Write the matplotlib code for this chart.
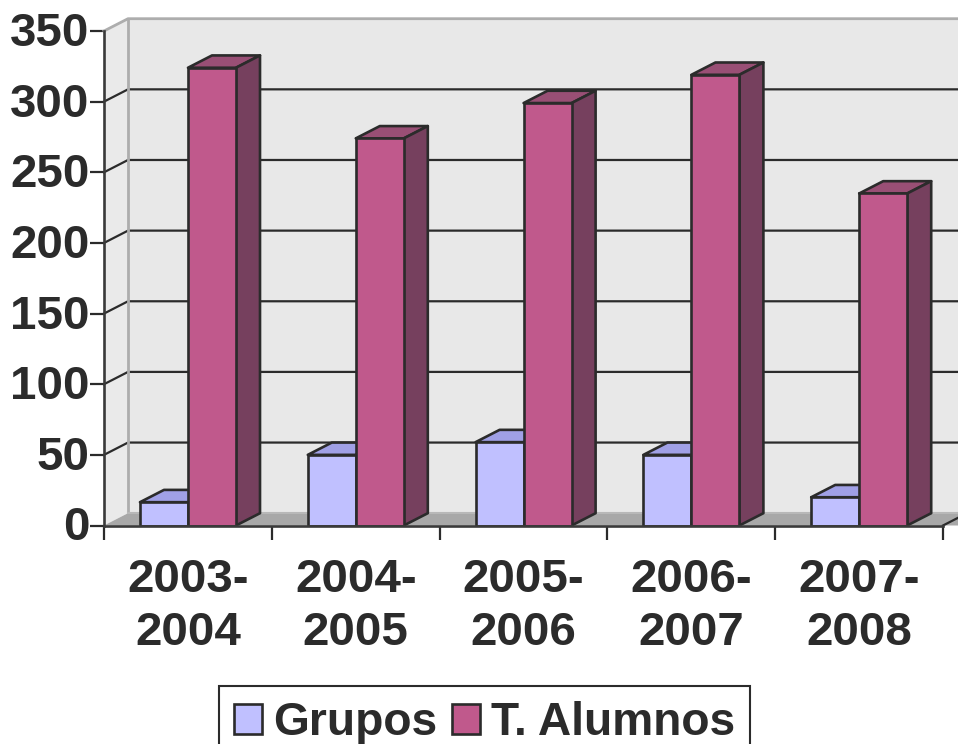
import matplotlib
matplotlib.use('Agg')
import matplotlib.pyplot as plt
from matplotlib.patches import Polygon
from matplotlib.transforms import ScaledTranslation

periodos = ['2003-\n2004', '2004-\n2005', '2005-\n2006', '2006-\n2007', '2007-\n2008']
grupos = [16.5, 50, 59, 50, 20]
alumnos = [324, 274, 299, 319, 235]
yticks = [0, 50, 100, 150, 200, 250, 300, 350]

W, H = 958, 744
oscuro = '#2b2b2b'
plt.rcParams['font.family'] = ['Liberation Sans', 'DejaVu Sans']
plt.rcParams['font.weight'] = 'bold'

fig = plt.figure(figsize=(W / 100, H / 100), dpi=100)
# ejes colocados en pixeles: x 104..943, y 525.5..31
ax = fig.add_axes([104 / W, 1 - 525.5 / H, (943 - 104) / W, (525.5 - 31) / H])
ax.set_xlim(0, 5)
ax.set_ylim(0, 350)
ax.patch.set_visible(False)

# profundidad 3d en unidades de datos
dx = 24 / 167.8
dy = 12.3 / (494.5 / 350)

def poly(pts, fc, ec=oscuro, lw=1.9, z=1):
    ax.add_patch(Polygon(pts, closed=True, facecolor=fc, edgecolor=ec, linewidth=lw,
                         zorder=z, clip_on=False, joinstyle='round'))

# paredes y suelo
poly([(dx, dy), (5.2, dy), (5.2, 350 + dy), (dx, 350 + dy)], '#e8e8e8', 'none', 0, 1)
poly([(0, 0), (dx, dy), (dx, 350 + dy), (0, 350)], '#eaeaea', 'none', 0, 1)
for v in yticks[1:-1]:
    ax.plot([0, dx, 5.2], [v, v + dy, v + dy], color=oscuro, lw=1.6, zorder=2, clip_on=False)
ax.plot([0, dx, 5.2], [350, 350 + dy, 350 + dy], color='#adadad', lw=2, zorder=2, clip_on=False)
ax.plot([dx, dx], [dy, 350 + dy], color='#adadad', lw=2, zorder=2, clip_on=False)
poly([(0, 0), (dx, dy), (5.2, dy), (5.2, 0)], '#a8a8a8', 'none', 0, 2)
ax.plot([dx, 5.2], [dy, dy], color='#b8b8b8', lw=1.5, zorder=2, clip_on=False)
ax.plot([5, 5 + dx], [0, dy], color=oscuro, lw=1.6, zorder=3, clip_on=False)

# barras
ancho = 48 / 167.8
inicio = 36 / 167.8
series = [(grupos, 0, '#c0c0ff', '#a0a0e6', '#7f7fb8'),
          (alumnos, 1, '#c0598c', '#994f75', '#76405e')]
for valores, k, frente, arriba, lado in series:
    for i, v in enumerate(valores):
        x0 = i + inicio + k * ancho
        x1 = x0 + ancho
        z = 4 + k * 3
        poly([(x0, v), (x0 + dx, v + dy), (x1 + dx, v + dy), (x1, v)], arriba, z=z)
        poly([(x1, 0), (x1 + dx, dy), (x1 + dx, v + dy), (x1, v)], lado, z=z)
        ax.bar(x0, v, ancho, align='edge', color=frente, edgecolor=oscuro, linewidth=1.9,
               zorder=z + 1, label=None if i else ('Grupos' if k == 0 else 'T. Alumnos'))

for lado_eje in ['top', 'right']:
    ax.spines[lado_eje].set_visible(False)
for lado_eje in ['left', 'bottom']:
    ax.spines[lado_eje].set_color('#3a3a3a')
    ax.spines[lado_eje].set_linewidth(1.9)
    ax.spines[lado_eje].set_zorder(10)

ax.set_yticks(yticks)
ax.set_xticks(range(6))
ax.set_xticklabels([])
ax.set_xticks([i + 0.5 for i in range(5)], periodos, minor=True)
ax.tick_params(axis='y', length=10, width=1.6, color=oscuro, labelsize=34.2, labelcolor=oscuro, pad=0.5)
ax.tick_params(axis='x', which='major', length=10, width=1.6, color=oscuro)
ax.tick_params(axis='x', which='minor', length=0, labelsize=34.2, labelcolor=oscuro, pad=23.5)
for t in ax.get_xticklabels(minor=True):
    t.set_linespacing(1.27)
for t in ax.get_yticklabels():
    t.set_transform(t.get_transform() + ScaledTranslation(0, 2 / 100, fig.dpi_scale_trans))

leg = ax.legend(loc='upper left', bbox_to_anchor=(219 / W, 1 - 686 / H), bbox_transform=fig.transFigure,
                ncol=2, fontsize=33.2, frameon=True, fancybox=False, framealpha=1,
                edgecolor=oscuro, borderpad=0.33, handlelength=0.6, handleheight=0.6,
                handletextpad=0.24, columnspacing=0.33, borderaxespad=0, labelcolor=oscuro)
leg.get_frame().set_linewidth(1.5)

fig.savefig('out.png', dpi=100)
